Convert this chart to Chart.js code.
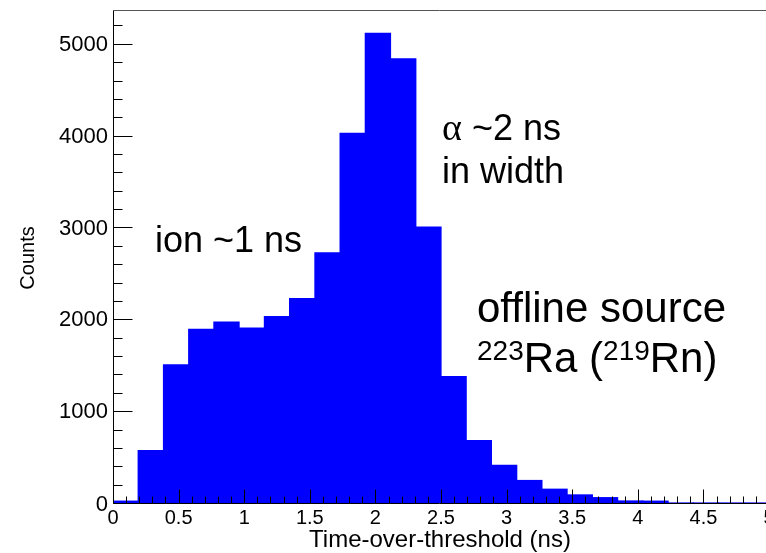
<!DOCTYPE html>
<html>
<head>
<meta charset="utf-8">
<script src="https://cdn.jsdelivr.net/npm/chart.js@4"></script>
<style>
  html, body { margin: 0; padding: 0; background: #fff; }
  canvas { display: block; }
</style>
</head>
<body>
<canvas id="toth" width="766" height="553"></canvas>
<script>
// histogram: 26 bins over 0..5 ns
const binCenters = [
    0.096, 0.288, 0.481, 0.673, 0.865, 1.058, 1.25, 1.442, 1.635, 1.827,
    2.019, 2.212, 2.404, 2.596, 2.788, 2.981, 3.173, 3.365, 3.558, 3.75,
    3.942, 4.135, 4.327, 4.519, 4.712, 4.904,
];
const counts = [
    20, 570, 1505, 1890, 1970, 1905, 2030, 2225, 2725, 4025,
    5115, 4835, 3005, 1375, 680, 410, 245, 150, 88, 58,
    22, 20, 0, 0, 0, 0,
];
const xTicks = [0, 0.5, 1, 1.5, 2, 2.5, 3, 3.5, 4, 4.5, 5];
const xTickLabels = ["0", "0.5", "1", "1.5", "2", "2.5", "3", "3.5", "4", "4.5", "5"];
const yTicks = [0, 1000, 2000, 3000, 4000, 5000];
const yTickLabels = ["0", "1000", "2000", "3000", "4000", "5000"];

const SANS = "'Liberation Sans', Arial, Helvetica, sans-serif";
const SERIF = "'Liberation Serif', 'Times New Roman', serif";

// ROOT-like frame, inward ticks, labels and the text boxes
const rootFrame = {
    id: "rootFrame",
    afterDatasetsDraw(chart) {
        const { ctx, chartArea: a, scales: { x, y } } = chart;
        const L = Math.round(a.left) + 0.5;
        const B = Math.round(a.bottom) + 0.5;
        const T = Math.round(a.top) + 0.5;

        ctx.save();
        ctx.lineWidth = 1;

        // frame
        ctx.strokeStyle = "#555";
        ctx.beginPath();
        ctx.moveTo(L, T);
        ctx.lineTo(a.right, T);
        ctx.stroke();
        ctx.strokeStyle = "#000";
        ctx.beginPath();
        ctx.moveTo(L, T);
        ctx.lineTo(L, B);
        ctx.lineTo(a.right, B);
        ctx.stroke();

        // x ticks (0.1 minor, 0.5 major)
        ctx.beginPath();
        for (let i = 0; i <= 50; i++) {
            const px = Math.round(x.getPixelForValue(i / 10)) + 0.5;
            if (px > a.right + 1) break;
            const len = i % 5 === 0 ? 14 : 7;
            ctx.moveTo(px, B);
            ctx.lineTo(px, B - len);
        }
        // y ticks (200 minor, 1000 major)
        for (let v = 0; v <= 5200; v += 200) {
            const py = Math.round(y.getPixelForValue(v)) + 0.5;
            const len = v % 1000 === 0 ? 19 : 9;
            ctx.moveTo(L, py);
            ctx.lineTo(L + len, py);
        }
        ctx.stroke();

        // tick labels
        ctx.fillStyle = "#000";
        ctx.font = "20px " + SANS;
        ctx.textAlign = "center";
        ctx.textBaseline = "alphabetic";
        xTicks.forEach((v, i) => {
            ctx.fillText(xTickLabels[i], x.getPixelForValue(v), 524);
        });
        ctx.font = "22px " + SANS;
        ctx.textAlign = "right";
        ctx.textBaseline = "middle";
        yTicks.forEach((v, i) => {
            const py = y.getPixelForValue(v) + (v === 0 ? 2 : 1);
            ctx.fillText(yTickLabels[i], 108, py);
        });

        // axis titles
        ctx.font = "24px " + SANS;
        ctx.textAlign = "center";
        ctx.textBaseline = "alphabetic";
        ctx.fillText("Time-over-threshold (ns)", 440, 547);

        ctx.save();
        ctx.translate(34, 258);
        ctx.rotate(-Math.PI / 2);
        ctx.font = "20px " + SANS;
        ctx.fillText("Counts", 0, 0);
        ctx.restore();

        // annotations
        ctx.textAlign = "left";
        ctx.font = "36px " + SANS;
        ctx.fillText("ion ~1 ns", 155, 252);

        ctx.font = "38px " + SERIF;
        ctx.fillText("\u03b1", 442, 140);
        let w = ctx.measureText("\u03b1").width;
        ctx.font = "36px " + SANS;
        ctx.fillText(" ~2 ns", 442 + w, 140);
        ctx.fillText("in width", 442, 183);

        ctx.font = "42px " + SANS;
        ctx.fillText("offline source", 477, 322);

        const parts = [
            ["223", true], ["Ra (", false], ["219", true], ["Rn)", false],
        ];
        let cx = 477;
        parts.forEach(([s, sup]) => {
            ctx.font = (sup ? "28px " : "42px ") + SANS;
            ctx.fillText(s, cx, sup ? 360 : 372);
            cx += ctx.measureText(s).width;
        });

        ctx.restore();
    },
};

new Chart(document.getElementById("toth"), {
    type: "bar",
    data: {
        datasets: [
            {
                label: "Counts",
                data: binCenters.map((c, i) => ({ x: c, y: counts[i] })),
                backgroundColor: "#0000ff",
                borderWidth: 0,
                inflateAmount: 0.6,
                categoryPercentage: 1,
                barPercentage: 1,
            },
        ],
    },
    options: {
        responsive: false,
        animation: false,
        layout: {
            padding: { left: 113, top: 10, right: 0, bottom: 50 },
        },
        plugins: {
            legend: { display: false },
            tooltip: { enabled: false },
        },
        scales: {
            x: {
                type: "linear",
                min: 0,
                max: 4.977,
                offset: false,
                display: false,
            },
            y: {
                type: "linear",
                min: 0,
                max: 5368,
                display: false,
            },
        },
    },
    plugins: [rootFrame],
});
</script>
</body>
</html>
